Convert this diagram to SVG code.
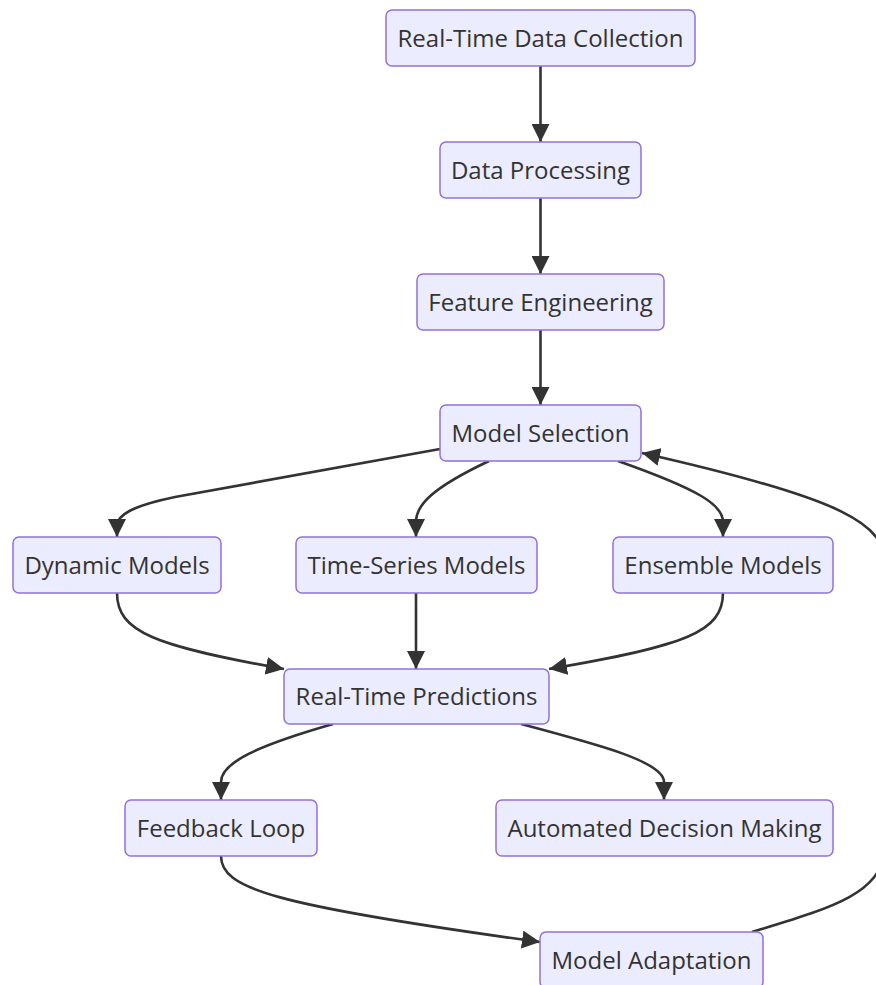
<svg xmlns="http://www.w3.org/2000/svg" width="876" height="985" viewBox="0 0 876 985">
<defs>
<marker id="arr" viewBox="0 0 10 10" refX="10" refY="5" markerUnits="userSpaceOnUse" markerWidth="18" markerHeight="18" orient="auto">
<path d="M0,0 L10,5 L0,10 z" fill="#333"/>
</marker>
<style>
.node rect{fill:#ECECFF;stroke:#9370DB;stroke-width:1.5}
.node text{font-family:"Open Sans","Liberation Sans",sans-serif;font-size:24px;fill:#333;text-anchor:middle;dominant-baseline:central}
.edges path{fill:none;stroke:#333;stroke-width:2.6;marker-end:url(#arr)}
</style>
</defs>
<rect width="876" height="985" fill="#fff"/>
<g class="edges">
<path d="M540.5,66 L540.5,142"/>
<path d="M540.5,198 L540.5,274"/>
<path d="M540.5,330 L540.5,405"/>
<path d="M440,449 L175,497 C132,506 117,515 117,526 L117,537"/>
<path d="M489,461 C432,488 416,505 416,522 L416,537"/>
<path d="M618,461 C700,490 723,505 723,522 L723,537"/>
<path d="M117,593 C117,632 155,646 284,669"/>
<path d="M416,593 L416,669"/>
<path d="M723,593 C723,632 685,646 549,669"/>
<path d="M333,724 C260,745 221,762 221,782 L221,800"/>
<path d="M521,724 C600,745 664,762 664,782 L664,800"/>
<path d="M221,856 C221,888 270,905 540,942"/>
<path d="M752,932 C830,908 880,895 885,850 L885,565 C885,525 850,500 642,453"/>
</g>
<g id="n1" class="node"><rect x="386" y="10" width="309" height="56" rx="6"/><text x="540.5" y="37">Real-Time Data Collection</text></g>
<g id="n2" class="node"><rect x="440" y="142" width="201" height="56" rx="6"/><text x="540.5" y="169">Data Processing</text></g>
<g id="n3" class="node"><rect x="417" y="274" width="247" height="56" rx="6"/><text x="540.5" y="301">Feature Engineering</text></g>
<g id="n4" class="node"><rect x="440" y="405" width="201" height="56" rx="6"/><text x="540.5" y="432">Model Selection</text></g>
<g id="n5" class="node"><rect x="13" y="537" width="208" height="56" rx="6"/><text x="117" y="564">Dynamic Models</text></g>
<g id="n6" class="node"><rect x="296" y="537" width="241" height="56" rx="6"/><text x="416.5" y="564">Time-Series Models</text></g>
<g id="n7" class="node"><rect x="613" y="537" width="220" height="56" rx="6"/><text x="723" y="564">Ensemble Models</text></g>
<g id="n8" class="node"><rect x="284" y="669" width="265" height="55" rx="6"/><text x="416.5" y="695.5">Real-Time Predictions</text></g>
<g id="n9" class="node"><rect x="125" y="800" width="192" height="56" rx="6"/><text x="221" y="827">Feedback Loop</text></g>
<g id="n10" class="node"><rect x="496" y="800" width="337" height="56" rx="6"/><text x="664.5" y="827">Automated Decision Making</text></g>
<g id="n11" class="node"><rect x="540" y="932" width="223" height="56" rx="6"/><text x="651.5" y="959">Model Adaptation</text></g>
</svg>
